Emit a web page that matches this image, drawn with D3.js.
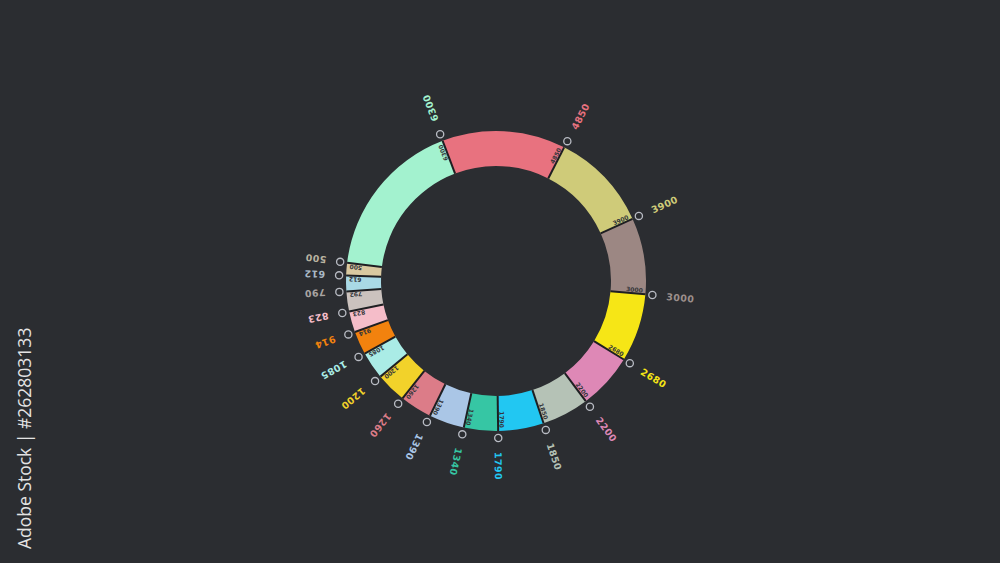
<!DOCTYPE html>
<html>
<head>
<meta charset="utf-8">
<script src="https://cdn.jsdelivr.net/npm/d3@7"></script>
<style>
  html, body { margin: 0; padding: 0; background: #2b2d31; }
  svg { display: block; }
</style>
</head>
<body>
<div id="chart"></div>
<script>
// values clockwise, starting with the big mint segment on the upper left
const values = [6300, 4850, 3900, 3000, 2680, 2200, 1850, 1790, 1340, 1390, 1260, 1200, 1085, 914, 823, 790, 612, 500];
const innerLabels = ["6300", "4850", "3900", "3000", "2680", "2200", "1850", "1790", "1340", "1390", "1260", "1200", "1085", "914", "823", "792", "612", "500"];
const colors = ["#a3f2cf", "#e8727f", "#cfcb79", "#9c8783", "#f6e616", "#de88b6", "#b5c2b6", "#22c7f2",
                "#36c6a4", "#aac6e6", "#dc7c88", "#f2d22a", "#aaece6", "#f2820e", "#f5bdc9", "#cbc2be", "#a9d9e5", "#d9c9a0"];
const labelColors = ["#a3f2cf", "#e8727f", "#cfcb79", "#9c8f8b", "#f6e616", "#de88b6", "#b5c2b6", "#22c7f2",
                "#36c6a4", "#aac6e6", "#dc7c88", "#f2d22a", "#aaece6", "#f2820e", "#f5bdc9", "#a9a4a2", "#a9b9c5", "#b9b3a0"];

const width = 1000, height = 563;
const cx = 496, cy = 281;
const innerR = 115, outerR = 150;
const startAngle = -83 * Math.PI / 180;

const svg = d3.select("#chart").append("svg")
    .attr("width", width)
    .attr("height", height);

svg.append("rect").attr("width", width).attr("height", height).attr("fill", "#2b2d31");

const pie = d3.pie().sort(null).value(d => d)
    .startAngle(startAngle)
    .endAngle(startAngle + 2 * Math.PI);
const slices = pie(values);

const arc = d3.arc().innerRadius(innerR).outerRadius(outerR);

const g = svg.append("g").attr("transform", `translate(${cx},${cy})`);

// ring segments
g.selectAll("path.seg")
    .data(slices)
    .join("path")
    .attr("class", "seg")
    .attr("d", arc)
    .attr("fill", (d, i) => colors[i]);

// polar helper: angle clockwise from top
const pt = (a, r) => [r * Math.sin(a), -r * Math.cos(a)];
const deg = a => a * 180 / Math.PI - 90;

// dark line at the end of each segment
g.selectAll("line.end")
    .data(slices)
    .join("line")
    .attr("class", "end")
    .attr("x1", d => pt(d.endAngle, innerR)[0])
    .attr("y1", d => pt(d.endAngle, innerR)[1])
    .attr("x2", d => pt(d.endAngle, outerR)[0])
    .attr("y2", d => pt(d.endAngle, outerR)[1])
    .attr("stroke", "#1e1f22")
    .attr("stroke-width", 2);

// small value inside the segment, next to its end line
g.selectAll("text.inner")
    .data(slices)
    .join("text")
    .attr("class", "inner")
    .attr("transform", d => {
        const [x, y] = pt(d.endAngle, outerR - 3);
        return `translate(${x},${y}) rotate(${deg(d.endAngle)})`;
    })
    .attr("text-anchor", "end")
    .attr("dy", "-1.5")
    .attr("font-family", "DejaVu Sans, sans-serif")
    .attr("font-weight", "bold")
    .attr("font-size", 6)
    .attr("fill", "#34363a")
    .text((d, i) => innerLabels[i]);

// hollow marker just outside each segment end
g.selectAll("circle.mark")
    .data(slices)
    .join("circle")
    .attr("class", "mark")
    .attr("cx", d => pt(d.endAngle, outerR + 7)[0])
    .attr("cy", d => pt(d.endAngle, outerR + 7)[1])
    .attr("r", 3.6)
    .attr("fill", "none")
    .attr("stroke", "#b9bcc4")
    .attr("stroke-width", 1.3);

// outer value labels, reading outward
g.selectAll("text.outer")
    .data(slices)
    .join("text")
    .attr("class", "outer")
    .attr("transform", d => {
        const [x, y] = pt(d.endAngle, outerR + 21);
        return `translate(${x},${y}) rotate(${deg(d.endAngle)})`;
    })
    .attr("dy", "0.4em")
    .attr("font-family", "DejaVu Sans, sans-serif")
    .attr("font-weight", "bold")
    .attr("font-size", 9.5)
    .attr("letter-spacing", 0.4)
    .attr("fill", (d, i) => labelColors[i])
    .text(d => d.data);

// stock id strip on the left edge
svg.append("text")
    .attr("transform", "translate(31,549) rotate(-90)")
    .attr("font-family", "Open Sans, sans-serif")
    .attr("font-size", 17.5)
    .attr("fill", "#e4e4e4")
    .text("Adobe Stock | #262803133");
</script>
</body>
</html>
